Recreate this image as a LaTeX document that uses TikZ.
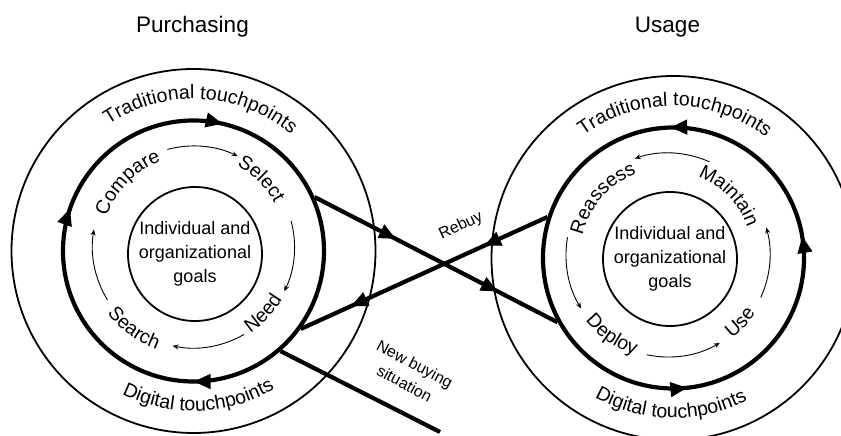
\documentclass[tikz,border=0pt]{standalone}
\usepackage{fontspec}
\setmainfont{Liberation Sans}
\usepackage{tikz}
\usetikzlibrary{arrows.meta, decorations.markings, decorations.text}
\newcommand{\titlefont}{\fontsize{22.5}{27}\selectfont}
\newcommand{\goalfont}{\fontsize{18}{24}\selectfont}
\newcommand{\arcfont}{\fontsize{19.5}{20}\selectfont}
\newcommand{\notefont}{\fontsize{16}{22}\selectfont}
\tikzstyle{heading} = [font=\titlefont, anchor=base]
\tikzstyle{outerring} = [circle, draw, line width=1.8pt, minimum size=364pt, inner sep=0pt]
\tikzstyle{loopring} = [circle, draw, line width=4.2pt, minimum size=261pt, inner sep=0pt, postaction={decorate}]
\tikzstyle{goal} = [circle, draw, line width=1.8pt, minimum size=134pt, inner sep=0pt, align=center, font=\goalfont]
\tikzstyle{link} = [line width=4.2pt, postaction={decorate}]
\tikzstyle{flow} = [line width=0.9pt, -{Stealth[length=6pt,width=5pt]}]
\tikzstyle{notetext} = [font=\notefont, align=center]
\tikzset{arclabel/.style={decorate, decoration={text along path, text align=center, text={|\arcfont|#1}}}}

\begin{document}
\begin{tikzpicture}[x=1pt, y=1pt, >={Triangle[length=17pt,width=14pt]}]
	\useasboundingbox (0,0) rectangle (841,436);
	\coordinate (L) at (193.5,185);
	\coordinate (R) at (673.5,178);
	\coordinate (Lc) at (193.5,189);
	\coordinate (Rc) at (668,181);

	\node (ptitle) [heading] at (192.5,403) {Purchasing};
	\node (utitle) [heading] at (667.5,403) {Usage};

	% purchasing circles
	\node (Lout) [outerring] at (L) {};
	\node (Lring) [loopring, decoration={markings,
		mark=at position .214 with {\arrowreversed{>}},
		mark=at position .447 with {\arrowreversed{>}},
		mark=at position .75 with {\arrowreversed{>}}}] at (L) {};
	\node (Lgoal) [goal] at (195,182) {Individual and\\organizational\\goals};

	% usage circles
	\node (Rout) [outerring] at (R) {};
	\node (Rring) [loopring, decoration={markings,
		mark=at position .027 with {\arrow{>}},
		mark=at position .254 with {\arrow{>}},
		mark=at position .767 with {\arrow{>}}}] at (R) {};
	\node (Rgoal) [goal] at (670,177) {Individual and\\organizational\\goals};

	% touchpoints
	\path [arclabel=Traditional touchpoints] (L) ++(157:152) arc[start angle=157, end angle=17, radius=152];
	\path [arclabel=Digital touchpoints] (L) ++(212:160) arc[start angle=212, end angle=332, radius=160];
	\path [arclabel=Traditional touchpoints] (R) ++(159.5:152) arc[start angle=159.5, end angle=19.5, radius=152];
	\path [arclabel=Digital touchpoints] (R) ++(209:160) arc[start angle=209, end angle=329, radius=160];

	% purchasing steps
	\path [arclabel=Compare] (Lc) ++(185.6:92) arc[start angle=185.6, end angle=85.6, radius=92];
	\path [arclabel=Select] (Lc) ++(95:92) arc[start angle=95, end angle=-5, radius=92];
	\path [arclabel=Need] (Lc) ++(-93.5:103) arc[start angle=-93.5, end angle=6.5, radius=103];
	\path [arclabel=Search] (Lc) ++(184:109) arc[start angle=184, end angle=284, radius=109];
	\draw [flow] (Lc) ++(105:101) arc[start angle=105, end angle=64, radius=101];
	\draw [flow] (Lc) ++(15:101) arc[start angle=15, end angle=-26, radius=101];
	\draw [flow] (Lc) ++(-60:101) arc[start angle=-60, end angle=-102, radius=101];
	\draw [flow] (Lc) ++(211.5:101) arc[start angle=211.5, end angle=170, radius=101];

	% usage steps
	\path [arclabel=Reassess] (Rc) ++(189:87.5) arc[start angle=189, end angle=89, radius=87.5];
	\path [arclabel=Maintain] (Rc) ++(94:84) arc[start angle=94, end angle=-6, radius=84];
	\path [arclabel=Deploy] (Rc) ++(185:105.5) arc[start angle=185, end angle=285, radius=105.5];
	\path [arclabel=Use] (Rc) ++(-93:105) arc[start angle=-93, end angle=7, radius=105];
	\draw [flow] (Rc) ++(66:102) arc[start angle=66, end angle=109, radius=102];
	\draw [flow] (Rc) ++(170:102) arc[start angle=170, end angle=211.6, radius=102];
	\draw [flow] (Rc) ++(258:102) arc[start angle=258, end angle=300.5, radius=102];
	\draw [flow] (Rc) ++(-24.6:102) arc[start angle=-24.6, end angle=15.6, radius=102];

	% links between the two cycles
	\draw [link, decoration={markings,
		mark=at position .335 with {\arrow{>}},
		mark=at position .755 with {\arrow{>}}}] (Lring.24) -- (Rring.209);
	\draw [link, decoration={markings,
		mark=at position .257 with {\arrow{>}},
		mark=at position .797 with {\arrow{>}}}] (Rring.162) -- (Lring.324);
	\node (rebuy) [notetext, rotate=25] at (461,210) {Rebuy};

	\coordinate (newend) at (440,4);
	\draw [line width=4.2pt] (Lring.311) -- (newend);
	\node (newbuy) [notetext, rotate=-28] at (409.7,62.3) {New buying\\situation};
\end{tikzpicture}
\end{document}
